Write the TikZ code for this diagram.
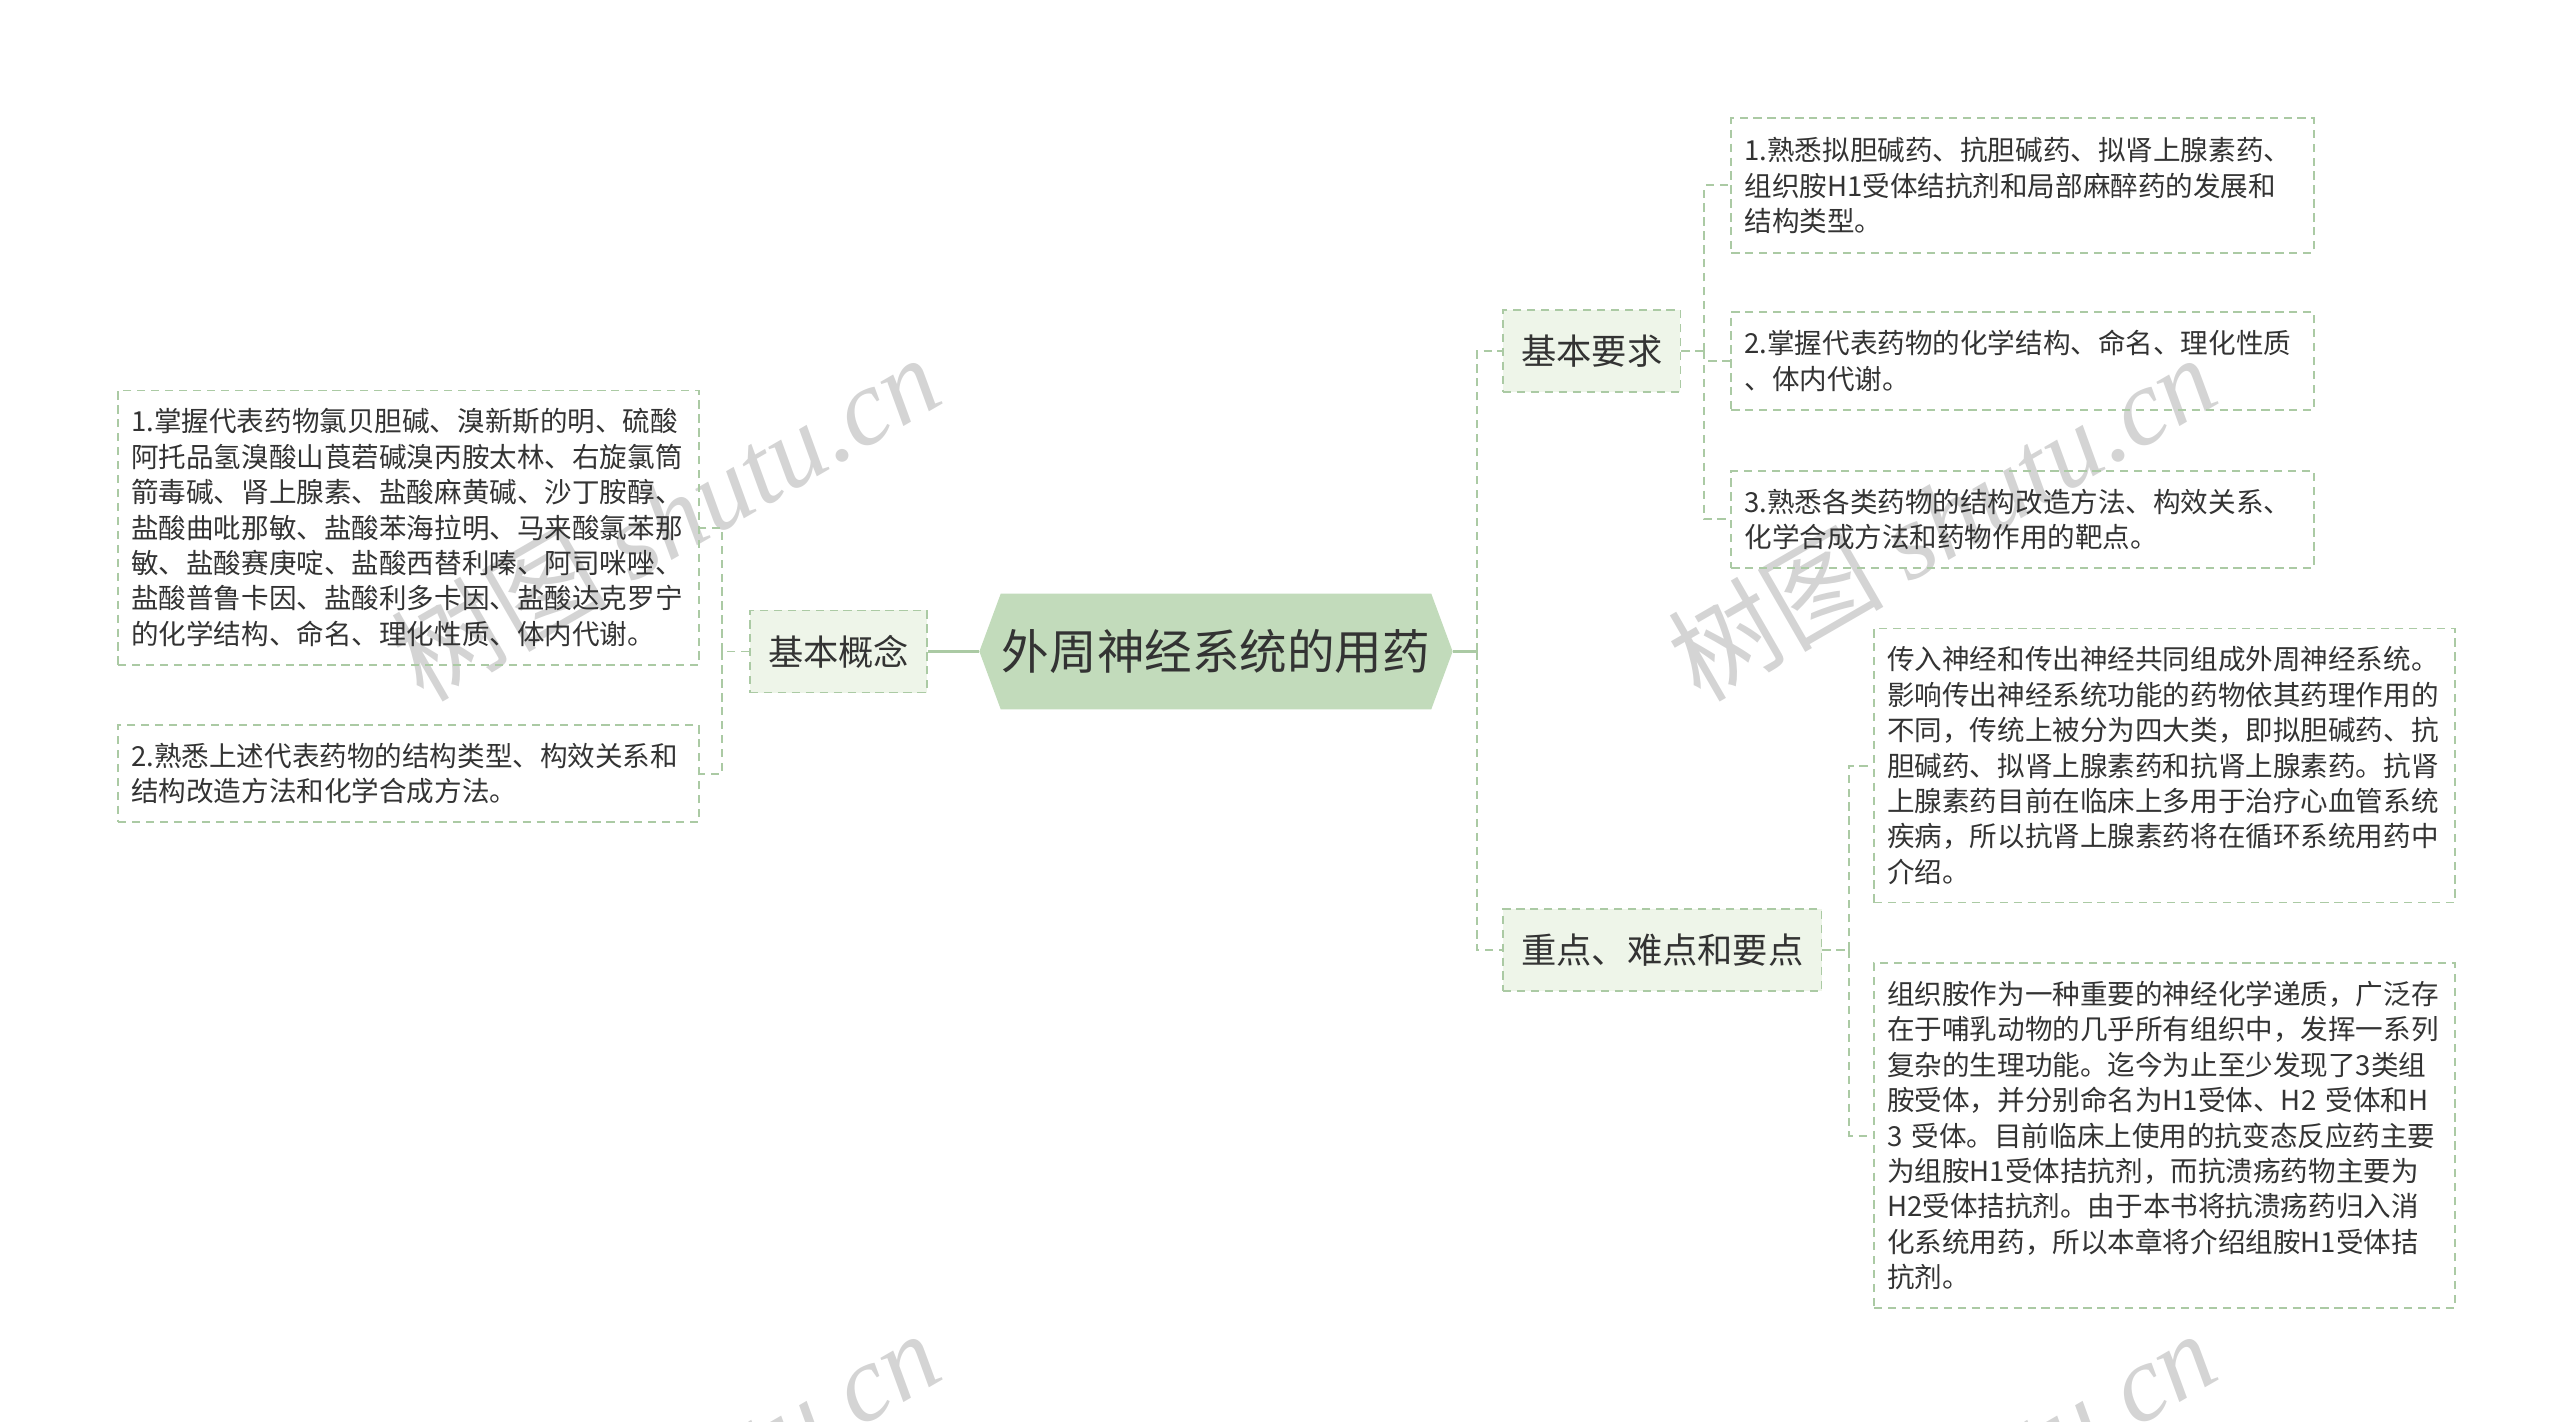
\documentclass[tikz,border=0pt]{standalone}
\usepackage{fontspec}
\setmainfont{Noto Sans CJK SC}
\newfontfamily\wmserif{Liberation Serif}
\usetikzlibrary{calc}
\definecolor{lineg}{HTML}{ABCAA4}
\definecolor{fillone}{HTML}{EEF5E9}
\definecolor{filltitle}{HTML}{C2DBBB}
\definecolor{txt}{HTML}{333333}
\definecolor{wm}{HTML}{D4D4D4}
\pgfdeclarelayer{bg}
\pgfsetlayers{bg,main}
\begin{document}
\begin{tikzpicture}[x=1pt,y=-1pt,
  leaf/.style={draw=lineg, dash pattern=on 5pt off 3.5pt, line width=1.1pt, text=txt,
    font=\fontsize{16.8}{21.6}\selectfont, align=left, text width=338pt,
    inner xsep=8pt, inner ysep=0pt, anchor=center},
  lvl/.style={draw=lineg, fill=fillone, dash pattern=on 5pt off 3.5pt, line width=1.1pt,
    text=txt, font=\fontsize{21.5}{24}\selectfont, inner xsep=11pt, inner ysep=0pt,
    minimum height=50pt},
  titlebox/.style={text=txt, font=\fontsize{29}{32}\selectfont, minimum width=288pt,
    minimum height=70pt, inner sep=0pt},
  conn/.style={draw=lineg, line width=1.2pt, dash pattern=on 5pt off 3.5pt},
  solidconn/.style={draw=lineg, line width=2pt},
  wmark/.style={text=wm, font=\fontsize{66}{70}\selectfont, rotate=30, inner sep=0pt}
]
\useasboundingbox (0,0) rectangle (1560,866);

% watermarks
\begin{pgfonlayer}{bg}
\begin{scope}
\clip (0,0) rectangle (1560,866);
\node[wmark] (w1) at (405,315) {树图 {\wmserif\itshape shutu.cn}};
\node[wmark] (w2) at (1183,315) {树图 {\wmserif\itshape shutu.cn}};
\node[wmark] (w3) at (405,910) {树图 {\wmserif\itshape shutu.cn}};
\node[wmark] (w4) at (1183,910) {树图 {\wmserif\itshape shutu.cn}};
\end{scope}
\end{pgfonlayer}

% title
\node[titlebox] (t) at (741,397) {外周神经系统的用药};
\begin{pgfonlayer}{bg}
\fill[filltitle] (t.west) -- ([xshift=13pt]t.north west) -- ([xshift=-13pt]t.north east)
  -- (t.east) -- ([xshift=-13pt]t.south east) -- ([xshift=13pt]t.south west) -- cycle;
\end{pgfonlayer}

% level 1
\node[lvl] (kn) at (511,397) {基本概念};
\node[lvl] (req) at (970,214) {基本要求};
\node[lvl] (key) at (1013,579) {重点、难点和要点};

% left leaves
\node[leaf, minimum height=167pt] (L1) at (249,321.5) {1.掌握代表药物氯贝胆碱、溴新斯的明、硫酸\\
阿托品氢溴酸山莨菪碱溴丙胺太林、右旋氯筒\\
箭毒碱、肾上腺素、盐酸麻黄碱、沙丁胺醇、\\
盐酸曲吡那敏、盐酸苯海拉明、马来酸氯苯那\\
敏、盐酸赛庚啶、盐酸西替利嗪、阿司咪唑、\\
盐酸普鲁卡因、盐酸利多卡因、盐酸达克罗宁\\
的化学结构、命名、理化性质、体内代谢。};
\node[leaf, minimum height=59pt] (L2) at (249,471.5) {2.熟悉上述代表药物的结构类型、构效关系和\\
结构改造方法和化学合成方法。};

% right leaves of 基本要求
\node[leaf, text width=339pt, minimum height=82pt] (R1) at (1232.5,113) {1.熟悉拟胆碱药、抗胆碱药、拟肾上腺素药、\\
组织胺H1受体结抗剂和局部麻醉药的发展和\\
结构类型。};
\node[leaf, text width=339pt, minimum height=60pt] (R2) at (1232.5,220) {2.掌握代表药物的化学结构、命名、理化性质\\
、体内代谢。};
\node[leaf, text width=339pt, minimum height=59pt] (R3) at (1232.5,316.5) {3.熟悉各类药物的结构改造方法、构效关系、\\
化学合成方法和药物作用的靶点。};

% right leaves of 重点
\node[leaf, minimum height=167pt] (R4) at (1319,466.5) {传入神经和传出神经共同组成外周神经系统。\\
影响传出神经系统功能的药物依其药理作用的\\
不同，传统上被分为四大类，即拟胆碱药、抗\\
胆碱药、拟肾上腺素药和抗肾上腺素药。抗肾\\
上腺素药目前在临床上多用于治疗心血管系统\\
疾病，所以抗肾上腺素药将在循环系统用药中\\
介绍。};
\node[leaf, minimum height=210pt] (R5) at (1319,692) {组织胺作为一种重要的神经化学递质，广泛存\\
在于哺乳动物的几乎所有组织中，发挥一系列\\
复杂的生理功能。迄今为止至少发现了3类组\\
胺受体，并分别命名为H1受体、H2~受体和H\\
3~受体。目前临床上使用的抗变态反应药主要\\
为组胺H1受体拮抗剂，而抗溃疡药物主要为\\
H2受体拮抗剂。由于本书将抗溃疡药归入消\\
化系统用药，所以本章将介绍组胺H1受体拮\\
抗剂。};

% connectors
\coordinate (jL) at (440,397);
\draw[solidconn] (t.west) -- (kn.east);
\draw[conn] (kn.west) -- (jL);
\draw[conn] (jL) |- (L1.east);
\draw[conn] (jL) |- (L2.east);

\coordinate (jR) at (900,397);
\draw[solidconn] (t.east) -- (jR);
\draw[conn] (jR) |- (req.west);
\draw[conn] (jR) |- (key.west);

\coordinate (jA) at ([xshift=14pt]req.east);
\draw[conn] (req.east) -- (jA);
\draw[conn] (jA) |- (R1.west);
\draw[conn] (jA) |- (R2.west);
\draw[conn] (jA) |- (R3.west);

\coordinate (jB) at ([xshift=16pt]key.east);
\draw[conn] (key.east) -- (jB);
\draw[conn] (jB) |- (R4.west);
\draw[conn] (jB) |- (R5.west);
\end{tikzpicture}
\end{document}
